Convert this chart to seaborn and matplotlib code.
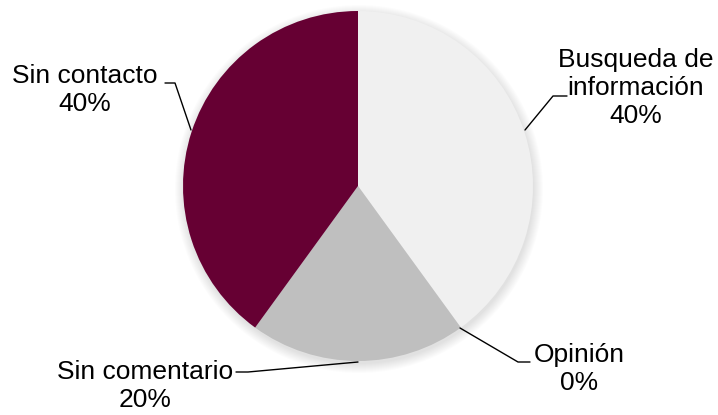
import matplotlib
matplotlib.use("Agg")
import matplotlib.pyplot as plt
import seaborn as sns
from matplotlib.patches import Circle

categories = ["Busqueda de\ninformación", "Opinión", "Sin comentario", "Sin contacto"]
shares = [40, 0, 20, 40]
colors = ["#F0F0F0", "#A6A6A6", "#BFBFBF", "#660033"]

sns.set_style("white")
plt.rcParams['font.family'] = ['Liberation Sans', 'DejaVu Sans']

W, H = 718, 415
fig = plt.figure(figsize=(W / 100, H / 100), dpi=100)
ax = fig.add_axes([0, 0, 1, 1])

cx, cy, r = 358, H - 186, 175

# soft shadow behind the pie
for i in range(10):
    ax.add_patch(Circle((cx + 1, cy - 3), r + i, color="black",
                        alpha=0.012, lw=0, zorder=0))

ax.pie(shares, colors=colors, startangle=90, counterclock=False,
       center=(cx, cy), radius=r, wedgeprops=dict(linewidth=0),
       frame=True)
ax.set_xlim(0, W)
ax.set_ylim(0, H)
ax.set_aspect("equal")
ax.axis("off")

# label text positions and leader lines (pixel coords, y from top)
label_pos = [(636, 88), (579, 369), (145, 386), (85, 90)]
leaders = [
    [(525, 130), (553, 96), (567, 96)],
    [(460, 328), (518, 362), (530, 362)],
    [(358, 362), (248, 372), (236, 372)],
    [(191, 130), (175, 83), (165, 83)],
]

for name, val, (lx, ly), pts in zip(categories, shares, label_pos, leaders):
    ax.text(lx, H - ly, f"{name}\n{val}%", ha="center", va="center",
            multialignment="center", fontsize=19, color="#000000",
            linespacing=1.2)
    xs = [p[0] for p in pts]
    ys = [H - p[1] for p in pts]
    ax.plot(xs, ys, color="black", lw=1)

fig.savefig("out.png", dpi=100)
